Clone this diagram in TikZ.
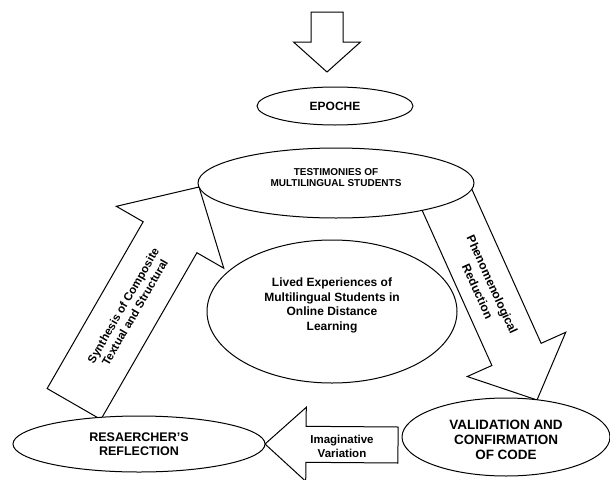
\documentclass[tikz,border=0pt]{standalone}
\usepackage{fontspec}
\setmainfont{Liberation Sans}
\usetikzlibrary{positioning}
\usetikzlibrary{shapes.geometric}
\usetikzlibrary{calc}
\usetikzlibrary{backgrounds}

% tail, tip, half shaft width, half head width, head length
\newcommand{\blockarrow}[5]{%
  \coordinate (hb) at ($(#2)!#5!(#1)$);
  \draw[barrow] ($(#1)!#3!90:(#2)$) -- ($(hb)!#3!90:(#2)$) -- ($(hb)!#4!90:(#2)$)
    -- (#2) -- ($(hb)!#4!-90:(#2)$) -- ($(hb)!#3!-90:(#2)$) -- ($(#1)!#3!-90:(#2)$) -- cycle;
}

\tikzset{
  oval/.style={ellipse,draw,fill=white,line width=1pt},
  barrow/.style={draw,fill=white,line width=1pt,line join=miter},
  txt/.style 2 args={align=center,font=\bfseries\fontsize{#1pt}{#2pt}\selectfont},
}

\begin{document}
\begin{tikzpicture}[x=1pt,y=-1pt,every node/.style={inner sep=0pt,outer sep=0pt}]
	\useasboundingbox (0,0) rectangle (610,479);
	\node[oval,minimum width=156pt,minimum height=38pt] (epoche) at (335,106) {};
	\node[oval,minimum width=276pt,minimum height=70pt] (testi) at (336,183) {};
	\node[oval,minimum width=250pt,minimum height=143pt] (lived) at (332,311.5) {};
	\node[oval,minimum width=208pt,minimum height=78pt] (valid) at (506,437) {};
	\node[oval,minimum width=252pt,minimum height=56pt] (research) at (139,444) {};

	\node[txt={12}{14}] (epochetxt) at (epoche) {EPOCHE};
	\node[txt={10}{11.7},yshift=5.5pt] (testitxt) at (testi) {TESTIMONIES OF\\MULTILINGUAL STUDENTS};
	\node[txt={12}{14.5},yshift=6pt] (livedtxt) at (lived) {Lived Experiences of\\Multilingual Students in\\Online Distance\\Learning};
	\node[txt={13.5}{15},yshift=-3pt] (validtxt) at (valid) {VALIDATION AND\\CONFIRMATION\\OF CODE};
	\node[txt={12.5}{13.5}] (researchtxt) at (research) {RESAERCHER'S\\REFLECTION};

	\coordinate (downtail) at (327,12);
	\coordinate (downtip) at (327,72);
	\coordinate (synthtail) at (74,404);
	\coordinate (synthtip) at (199,187);
	\coordinate (phentail) at (439,182);
	\coordinate (phentip) at (537,400);
	\coordinate (imagtail) at (398,445);

	\begin{scope}[on background layer]
		\blockarrow{downtail}{downtip}{16pt}{33.5pt}{30pt}
		\blockarrow{synthtail}{synthtip}{31pt}{62pt}{58pt}
		\blockarrow{phentail}{phentip}{27pt}{54pt}{50pt}
		\blockarrow{imagtail}{research.east}{18pt}{37pt}{41pt}
	\end{scope}

	\node[txt={11.5}{13.5},rotate=60] (synthtxt) at (129,309) {Synthesis of Composite\\Textual and Structural};
	\node[txt={12}{16},rotate=-65.5] (phentxt) at (485,288) {Phenomenological\\Reduction};
	\node[txt={11.5}{14}] (imagtxt) at (342,446) {Imaginative\\Variation};
\end{tikzpicture}
\end{document}
